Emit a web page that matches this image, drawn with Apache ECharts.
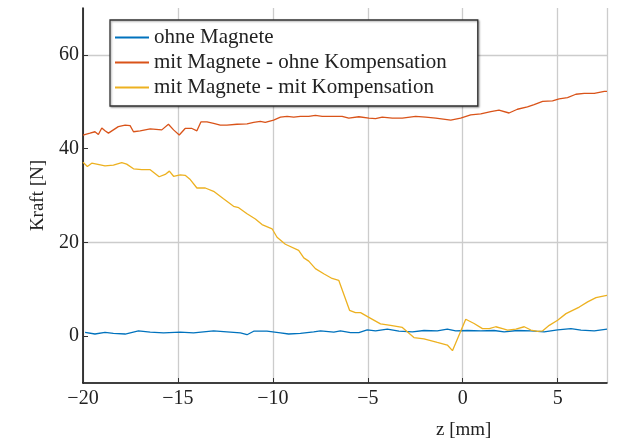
<!DOCTYPE html>
<html>
<head>
<meta charset="utf-8">
<script src="https://cdn.jsdelivr.net/npm/echarts@6/dist/echarts.min.js"></script>
<style>html,body{margin:0;padding:0;background:#fff}#c{width:619px;height:440px}</style>
</head>
<body>
<div id="c"></div>
<script>
var seriesNames = ['ohne Magnete', 'mit Magnete - ohne Kompensation', 'mit Magnete - mit Kompensation'];
var xTicks = [-20, -15, -10, -5, 0, 5];
var yTicks = [0, 20, 40, 60];

var zBlue = [-19.89,-19.37,-18.84,-18.4,-17.78,-17.08,-16.46,-15.76,-14.88,-14.18,-13.12,-12.42,-11.71,-11.36,-11.01,-10.31,-9.6,-9.17,-8.55,-7.85,-7.49,-6.79,-6.44,-5.91,-5.47,-5.03,-4.59,-3.97,-3.36,-2.65,-2.04,-1.34,-0.81,-0.37,0.25,0.95,1.65,2.18,2.89,3.59,4.29,5.0,5.7,6.23,6.93,7.6];
var fBlue = [0.8,0.45,0.8,0.6,0.45,1.1,0.85,0.7,0.85,0.7,1.1,0.9,0.7,0.3,1.05,1.05,0.7,0.45,0.6,0.9,1.1,0.85,1.1,0.75,0.75,1.35,1.1,1.5,1.05,0.9,1.2,1.1,1.5,1.1,1.2,1.1,1.2,0.9,1.2,1.1,0.9,1.35,1.6,1.3,1.1,1.5];

var zRed = [-20,-19.63,-19.37,-19.19,-19.01,-18.84,-18.66,-18.4,-18.14,-17.78,-17.52,-17.34,-16.99,-16.46,-15.85,-15.5,-15.23,-14.93,-14.62,-14.26,-14.0,-13.79,-13.47,-13.12,-12.77,-12.42,-11.89,-11.36,-11.01,-10.66,-10.4,-9.96,-9.6,-9.25,-8.9,-8.55,-8.11,-7.76,-7.4,-6.7,-6.35,-6.0,-5.47,-4.94,-4.59,-4.24,-3.71,-3.18,-2.48,-1.95,-1.42,-0.63,-0.11,0.42,0.95,1.48,1.91,2.44,2.88,3.41,3.76,4.21,4.73,5.08,5.52,5.96,6.4,6.93,7.46,7.6];
var fRed = [42.9,43.3,43.6,43.0,44.4,43.8,43.3,44.0,44.7,45.0,44.9,43.6,43.8,44.2,44.0,45.2,44.0,42.9,44.3,44.3,43.8,45.7,45.7,45.4,45.0,45.0,45.2,45.3,45.6,45.8,45.6,46.1,46.7,46.9,46.7,46.9,46.9,47.1,46.9,46.9,46.9,46.5,46.8,46.5,46.4,46.7,46.5,46.5,46.9,46.7,46.5,46.1,46.5,47.2,47.4,47.9,48.2,47.6,48.4,48.9,49.4,50.1,50.2,50.6,50.9,51.6,51.8,51.8,52.2,52.2];

var zYellow = [-20,-19.77,-19.54,-19.28,-18.84,-18.4,-17.96,-17.7,-17.34,-16.9,-16.46,-15.99,-15.67,-15.45,-15.23,-14.88,-14.62,-14.35,-14.0,-13.56,-13.12,-12.6,-12.07,-11.8,-11.36,-10.92,-10.57,-10.04,-9.78,-9.34,-8.64,-8.37,-8.11,-7.76,-7.32,-6.88,-6.53,-5.96,-5.65,-5.38,-4.85,-4.33,-3.8,-3.18,-2.57,-2.04,-1.34,-0.81,-0.54,0.16,0.6,1.04,1.4,1.74,2.1,2.36,2.8,3.24,3.59,3.94,4.2,4.56,5.0,5.44,5.79,6.14,6.58,7.02,7.46,7.6];
var fYellow = [37.1,36.2,36.9,36.7,36.3,36.5,37.0,36.7,35.7,35.5,35.5,34.0,34.5,35.2,34.1,34.4,34.3,33.4,31.6,31.6,30.9,29.3,27.7,27.4,26.1,25.0,23.8,22.9,21.1,19.6,18.3,16.7,16.0,14.4,13.3,12.3,11.9,5.5,5.0,5.0,3.8,2.6,2.3,1.85,-0.3,-0.6,-1.35,-1.9,-3.1,3.6,2.7,1.6,1.6,2.0,1.6,1.3,1.5,2.0,1.3,1.0,1.1,2.3,3.4,4.8,5.5,6.2,7.3,8.2,8.6,8.7];

function pairs(xs, ys) { return xs.map(function (x, i) { return [x, ys[i]]; }); }
var colors = ['#0072BD', '#D95319', '#EDB120'];
var FONT = 'Liberation Serif';

var chart = echarts.init(document.getElementById('c'), null, {renderer: 'canvas'});
chart.setOption({
  animation: false,
  color: colors,
  textStyle: {fontFamily: FONT},
  grid: {left: 83, right: 12, top: 8, bottom: 57, containLabel: false},
  xAxis: {
    type: 'value', min: -20, max: 7.6, interval: 5,
    axisLine: {show: true, onZero: false, lineStyle: {color: '#000', width: 1.5}},
    axisTick: {show: true, inside: true, length: 5, lineStyle: {color: '#333'}},
    axisLabel: {color: '#222', fontFamily: FONT, fontSize: 20, margin: 6, showMaxLabel: false,
      formatter: function (v) { return xTicks.indexOf(v) >= 0 ? String(v).replace('-', '\u2212') : ''; }},
    splitLine: {show: true, lineStyle: {color: '#cccccc', width: 1.3}}
  },
  yAxis: {
    type: 'value', min: -10, max: 70, interval: 10,
    name: 'Kraft [N]', nameLocation: 'middle', nameGap: 35,
    nameTextStyle: {color: '#222', fontFamily: FONT, fontSize: 19},
    axisLine: {show: true, onZero: false, lineStyle: {color: '#000', width: 1.5}},
    axisTick: {show: true, inside: true, length: 5, customValues: yTicks, lineStyle: {color: '#333'}},
    axisLabel: {color: '#222', fontFamily: FONT, fontSize: 20, margin: 4,
      formatter: function (v) { return yTicks.indexOf(v) >= 0 ? String(v) : ''; }},
    splitLine: {show: true, lineStyle: {color: ['rgba(0,0,0,0)', '#cccccc'], width: 1.3}}
  },
  legend: {
    orient: 'vertical', left: 110, top: 20,
    data: seriesNames,
    icon: 'rect', itemWidth: 34, itemHeight: 2, itemGap: 4,
    padding: [7, 31, 8, 5],
    backgroundColor: '#fff', borderColor: '#333', borderWidth: 1.3,
    shadowBlur: 2, shadowColor: 'rgba(0,0,0,0.35)', shadowOffsetX: 1, shadowOffsetY: 1,
    textStyle: {color: '#222', fontFamily: FONT, fontSize: 21, padding: [0, 0, 0, 0]},
    z: 10
  },
  graphic: [{type: 'text', left: 436, top: 421, style: {text: 'z [mm]', fill: '#222', font: '19px "Liberation Serif"'}}],
  series: [
    {name: seriesNames[0], type: 'line', data: pairs(zBlue, fBlue), showSymbol: false, symbol: 'none', lineStyle: {width: 1.3}},
    {name: seriesNames[1], type: 'line', data: pairs(zRed, fRed), showSymbol: false, symbol: 'none', lineStyle: {width: 1.3}},
    {name: seriesNames[2], type: 'line', data: pairs(zYellow, fYellow), showSymbol: false, symbol: 'none', lineStyle: {width: 1.3}}
  ]
});
</script>
</body>
</html>
